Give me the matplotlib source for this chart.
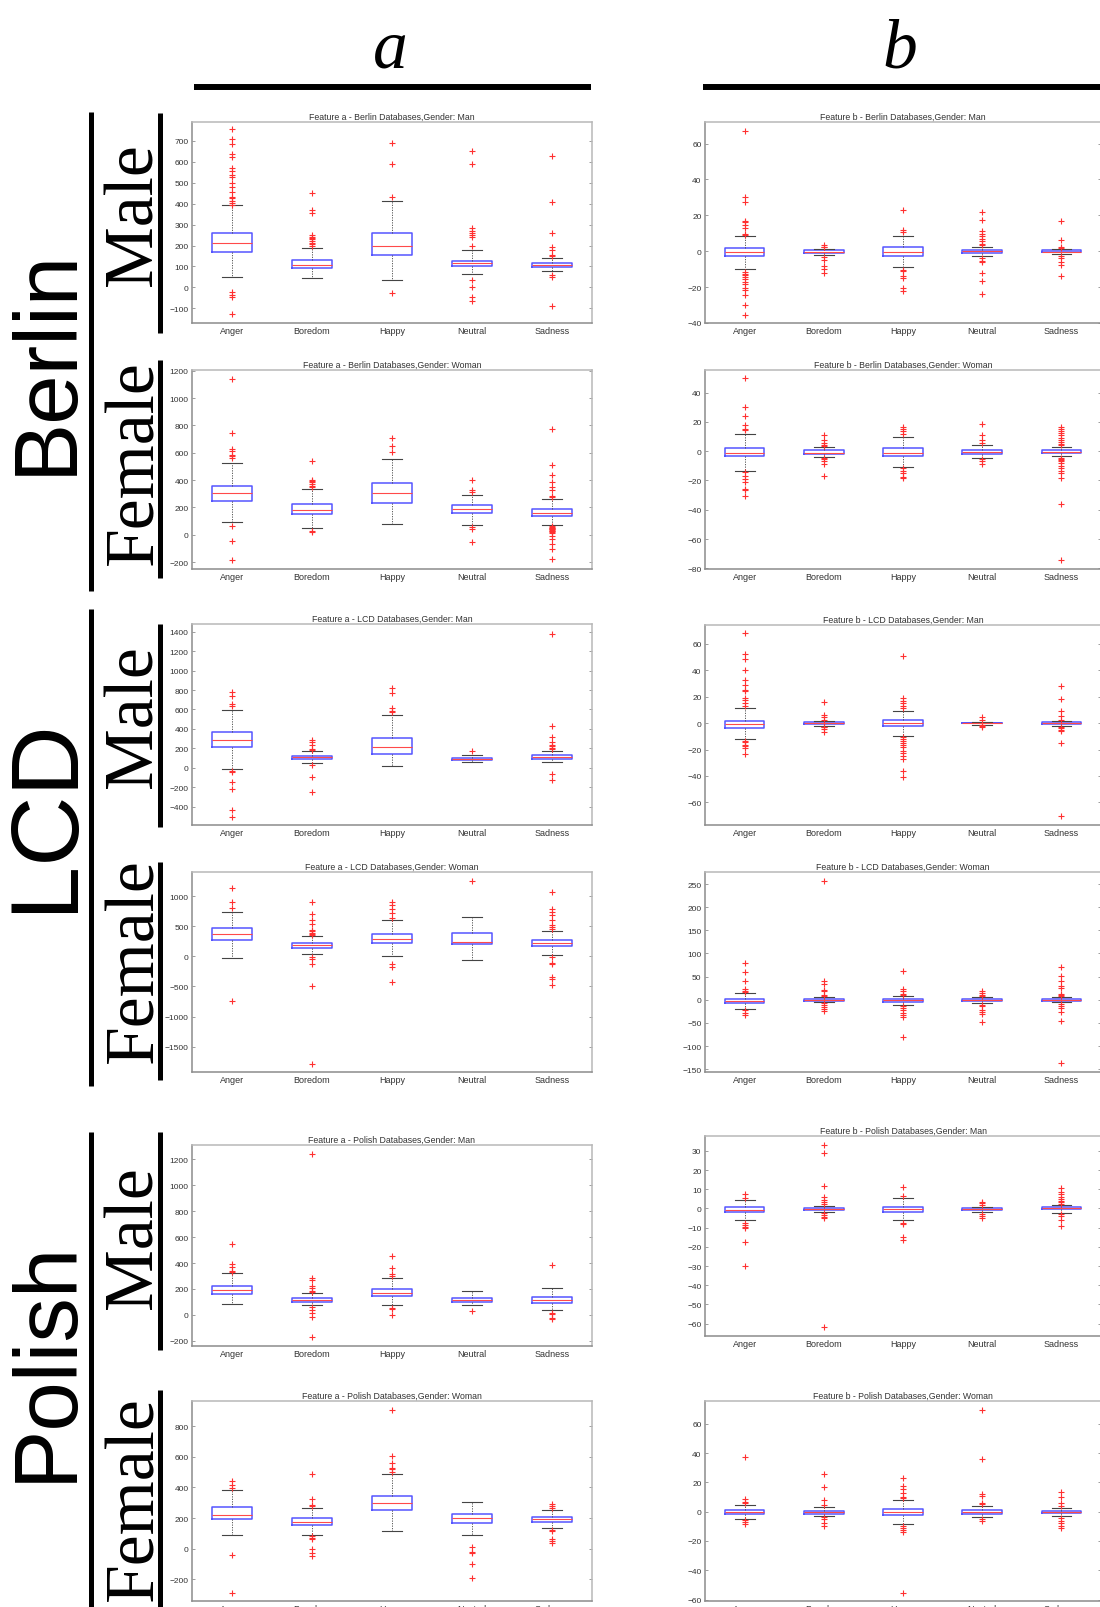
import matplotlib
matplotlib.use("Agg")
import matplotlib.pyplot as plt
from matplotlib.lines import Line2D
from matplotlib.ticker import MultipleLocator

W, H = 1100, 1608
emotions = ["Anger", "Boredom", "Happy", "Neutral", "Sadness"]

# per panel: quartiles, whisker ends and outliers for each emotion
berlin_man_a = dict(
    q1=[169, 92, 156, 100, 97], med=[210, 108, 198, 115, 108], q3=[258, 129, 258, 127, 116],
    lo=[52, 47, 35, 65, 79], hi=[394, 189, 411, 179, 139],
    out=[[756, 710, 685, 635, 624, 571, 555, 535, 527, 498, 479, 458, 434, 426, 415, 402, 395, -21, -34, -48, -126],
         [452, 372, 356, 248, 242, 236, 230, 222, 214, 206, 198],
         [692, 589, 431, -26],
         [652, 589, 285, 269, 258, 248, 240, 200, 35, 3, -48, -66],
         [627, 410, 261, 192, 181, 156, 148, 60, 52, -90]])
berlin_man_b = dict(
    q1=[-2.8, -0.9, -2.4, -0.75, -0.7], med=[-0.3, -0.4, -0.4, 0, -0.2], q3=[1.7, 0.5, 2.2, 0.75, 0.5],
    lo=[-9.9, -2, -8.6, -2.4, -1.7], hi=[8.2, 1.3, 8.6, 2.4, 1.3],
    out=[[67, 30.3, 27.3, 17, 16.3, 14.4, 13, 9.7, 9.2, -11.8, -12.7, -13.5, -14.2, -15.5, -17, -18.3, -20.6, -21.7, -24.3, -29.9, -35.3],
         [3.2, 2.6, 2.2, -3.4, -4.7, -8, -9.9, -12.3],
         [23.2, 12, 10.7, -10.5, -11.2, -13.6, -15.1, -20.4, -22.2],
         [21.9, 17.4, 11, 9.7, 8.2, 6.9, 5.6, 4.1, 3.2, -3.7, -5.2, -6.2, -12.1, -16.4, -23.9],
         [16.8, 6.5, 2.2, 1.7, -2.4, -3.9, -6.2, -7.5, -13.6]])
berlin_woman_a = dict(
    q1=[247, 152, 235, 158, 139], med=[305, 180, 305, 186, 163], q3=[360, 222, 380, 219, 191],
    lo=[94, 53, 80, 69, 75], hi=[524, 332, 551, 291, 260],
    out=[[1141, 748, 629, 615, 582, 573, 560, 66, -44, -183],
         [537, 402, 395, 388, 375, 360, 346, 28, 19],
         [706, 651, 609],
         [402, 324, 310, 55, 42, -55],
         [776, 512, 435, 388, 346, 324, 283, 277, 66, 60, 53, 50, 45, 39, 35, 30, 25, 20, 11, -8, -30, -64, -105, -180]])
berlin_woman_b = dict(
    q1=[-3.6, -1.6, -3.2, -1.6, -0.9], med=[-0.9, -0.9, -0.9, -0.7, -0.2], q3=[2.3, 0.5, 2.3, 0.9, 0.9],
    lo=[-13.2, -3.9, -10.7, -4.3, -3.2], hi=[12, 3, 9.8, 4.1, 3.2],
    out=[[49.8, 30.2, 24, 18.2, 15, 14.3, -13.9, -16.8, -19, -20.9, -25.9, -26.8, -30.9],
         [11.1, 7.7, 5.9, 4.3, 3.6, -4.5, -5.5, -6.6, -8.9, -16.8],
         [16.8, 15, 13.6, 11.6, -11.8, -13.4, -15.2, -17.3, -18.6],
         [18.4, 10.9, 7.7, 5.5, -5, -7, -8.9],
         [16.4, 15, 13.9, 12.7, 10.9, 9.3, 7.7, 6.4, 5.2, 4.1, -4.3, -5, -5.9, -7, -8.2, -10, -11.8, -13.4, -15, -18, -36.4, -74.5]])
lcd_man_a = dict(
    q1=[213, 90, 141, 83, 90], med=[289, 107, 210, 93, 107], q3=[365, 124, 306, 103, 131],
    lo=[-14, 48, 21, 59, 59], hi=[599, 176, 547, 134, 169],
    out=[[781, 737, 657, 633, -34, -45, -148, -220, -437, -509],
         [282, 262, 231, 196, 186, 24, -100, -251],
         [826, 771, 616, 589, 578],
         [169],
         [1377, 434, 317, 262, 238, 220, 203, 193, -62, -127]])
lcd_man_b = dict(
    q1=[-3.8, -0.5, -2.5, -0.3, -0.5], med=[-1, 0, 0, 0, 0], q3=[1.8, 0.5, 2.5, 0.3, 0.5],
    lo=[-12, -2, -9.5, -1.3, -2], hi=[11, 1.8, 9, 1, 1.3],
    out=[[67.6, 52, 48.2, 40.2, 32.4, 28.9, 25, 23.9, 18.8, 17.3, 15, 12.6, -13.3, -14.6, -16.3, -17.6, -19, -23.6],
         [15.6, 6, 4.3, 2.5, -2.8, -3.3, -4.5, -6.5],
         [50.8, 18.8, 16.8, 15, 13, 11, -10.8, -12, -13.3, -15, -16.6, -18.3, -20.9, -22.9, -24.6, -27.1, -35.9, -40.5],
         [4.5, 2.5, -1.5, -2.3, -3],
         [27.6, 18.1, 9.3, 5.5, 2.5, -2.8, -3.8, -5, -6.3, -15.3, -70.4]])
lcd_woman_a = dict(
    q1=[277, 144, 222, 199, 166], med=[377, 183, 288, 238, 216], q3=[471, 216, 371, 388, 266],
    lo=[-22, 39, 6, -61, 22], hi=[742, 332, 609, 648, 416],
    out=[[1141, 898, 809, -748],
         [898, 709, 604, 532, 438, 416, 393, 366, 349, -6, -50, -127, -499, -1784],
         [898, 853, 792, 726, 643, -133, -172, -427],
         [1247],
         [1075, 781, 737, 681, 604, 515, 493, 460, -11, -105, -127, -338, -377, -482]])
lcd_woman_b = dict(
    q1=[-7, -2, -5, -2.9, -2.2], med=[-3, -0.7, -1.4, -1.4, -0.7], q3=[2, 0.7, 2, 0.7, 1.4],
    lo=[-20, -5.7, -10.8, -7.2, -5.7], hi=[13.6, 5, 8.6, 5.7, 5.7],
    out=[[79, 61, 40, 23, 18, 15.8, -21.5, -28, -32],
         [256, 39.5, 34.4, 20.8, 18, 10.8, 7.2, -7.2, -10.8, -15.8, -19.4, -24.4],
         [63, 23.7, 20, 11.5, 9.3, -13.6, -17.2, -23, -28.7, -32.3, -37.3, -80.3],
         [18, 14.3, 10.8, 7.9, -10.8, -13.6, -21.5, -26.5, -31.6, -48],
         [70.3, 51, 41.6, 29.4, 25, 13, 9.3, 7.2, -8.6, -13.6, -18, -26.5, -46, -136]])
polish_man_a = dict(
    q1=[159, 100, 147, 100, 95], med=[190, 116, 172, 118, 118], q3=[224, 129, 203, 134, 141],
    lo=[87, 75, 75, 77, 36], hi=[326, 172, 288, 185, 206],
    out=[[550, 396, 370, 339, 332],
         [1239, 288, 270, 224, 206, 185, 177, 57, 39, 18, -13, -170],
         [455, 365, 314, 301, 51, 44, 0],
         [31],
         [386, 18, 5, -21, -33]])
polish_man_b = dict(
    q1=[-2.1, -0.7, -2.1, -0.7, -0.5], med=[-0.7, -0.2, -0.5, -0.2, 0], q3=[0.7, 0.3, 1, 0.3, 0.5],
    lo=[-5.9, -1.9, -5.9, -2.1, -2.2], hi=[4.5, 1.4, 5.4, 1, 1.9],
    out=[[7.4, 5.4, -7.6, -8.7, -9.5, -10.4, -17.6, -29.8],
         [33, 29, 11.6, 5.7, 4.5, 3.1, 2.1, -2.6, -3.3, -4.3, -5, -61.8],
         [11.2, 6.6, -7.6, -8.1, -15, -16.3],
         [3.5, 2.6, 1.7, -2.9, -3.8, -5],
         [10.6, 8.7, 7.4, 6.2, 4.8, 4, 3.1, 2.2, -2.9, -3.8, -5.9, -9]])
polish_woman_a = dict(
    q1=[196, 154, 250, 170, 176], med=[220, 176, 300, 202, 191], q3=[270, 202, 343, 228, 209],
    lo=[91, 91, 115, 91, 137], hi=[383, 267, 489, 307, 252],
    out=[[441, 413, 398, -41, -287],
         [485, 322, 285, 278, 83, 72, 65, 0, -30, -48],
         [904, 604, 556, 528, 517, 502],
         [11, -22, -26, -102, -189],
         [293, 278, 267, 120, 115, 65, 50, 35]])
polish_woman_b = dict(
    q1=[-1.6, -1.4, -2.3, -1.6, -0.9], med=[-0.2, -0.5, -0.2, -0.2, -0.2], q3=[1.1, 0.7, 2, 1.1, 0.5],
    lo=[-4.8, -3, -8.7, -3.9, -3], hi=[4.6, 3.4, 7.7, 3.6, 2.7],
    out=[[37.6, 8.9, 6.8, 5.7, -5.9, -6.8, -8.2],
         [25.5, 16.9, 8, 4.6, -3.6, -4.8, -8, -9.8],
         [23.2, 17.5, 15.7, 13, 10.3, 9.6, -9.8, -11.4, -12.8, -13.9, -55.4],
         [69.5, 35.8, 12.3, 10.7, 6.2, 5, -4.8, -6.4],
         [13.4, 10.3, 5.7, 3.9, -4.1, -6.4, -8, -9.8, -11.4]])

plt.rcParams['font.family'] = ['Liberation Sans', 'DejaVu Sans']

fig = plt.figure(figsize=(W / 100, H / 100), dpi=100)


def fx(x):
    return x / W


def fy(y):
    return 1 - y / H


def draw_panel(rect, d, title, ylim, step):
    x0, y0, x1, y1 = rect
    ax = fig.add_axes([fx(x0), fy(y1), (x1 - x0) / W, (y1 - y0) / H])
    stats = []
    for i, name in enumerate(emotions):
        stats.append(dict(label=name, med=d["med"][i], q1=d["q1"][i], q3=d["q3"][i],
                          whislo=d["lo"][i], whishi=d["hi"][i], fliers=d["out"][i]))
    ax.bxp(stats, widths=0.5, capwidths=0.25,
           boxprops=dict(color='#5555ff', lw=1.1),
           medianprops=dict(color='#ff4a4a', lw=0.8),
           whiskerprops=dict(color='#444444', ls=(0, (1.5, 1.5)), lw=0.6),
           capprops=dict(color='#444444', lw=0.8),
           flierprops=dict(marker='+', markeredgecolor='#ff3030', markersize=4.2,
                           markeredgewidth=0.8, ls='none'))
    ax.set_xlim(0.5, 5.5)
    ax.set_ylim(*ylim)
    ax.yaxis.set_major_locator(MultipleLocator(step))
    ax.tick_params(axis='y', direction='in', right=True, length=2.5, width=0.5,
                   color='#777777', labelcolor='#333333', labelsize=6, pad=2.5)
    ax.tick_params(axis='x', length=0, labelcolor='#333333', labelsize=6.5, pad=2)
    for side, sp in ax.spines.items():
        sp.set_linewidth(1.1)
        sp.set_color('#8c8c8c' if side in ('left', 'bottom') else '#b8b8b8')
    ax.set_title(title, fontsize=6.3, color='#333333', pad=2.5)
    return ax


left = (192, 592)
right = (705, 1101)
panels = [
    (left, (123, 324), berlin_man_a, "Feature a - Berlin Databases,Gender: Man", (-170, 790), 100),
    (right, (123, 324), berlin_man_b, "Feature b - Berlin Databases,Gender: Man", (-40, 72), 20),
    (left, (371, 570), berlin_woman_a, "Feature a - Berlin Databases,Gender: Woman", (-250, 1205), 200),
    (right, (371, 570), berlin_woman_b, "Feature b - Berlin Databases,Gender: Woman", (-80.5, 55.5), 20),
    (left, (625, 826), lcd_man_a, "Feature a - LCD Databases,Gender: Man", (-590, 1480), 200),
    (right, (626, 826), lcd_man_b, "Feature b - LCD Databases,Gender: Man", (-77, 74), 20),
    (left, (873, 1073), lcd_woman_a, "Feature a - LCD Databases,Gender: Woman", (-1920, 1400), 500),
    (right, (873, 1073), lcd_woman_b, "Feature b - LCD Databases,Gender: Woman", (-156, 276), 50),
    (left, (1146, 1347), polish_man_a, "Feature a - Polish Databases,Gender: Man", (-240, 1310), 200),
    (right, (1137, 1337), polish_man_b, "Feature b - Polish Databases,Gender: Man", (-66.4, 37.7), 10),
    (left, (1402, 1602), polish_woman_a, "Feature a - Polish Databases,Gender: Woman", (-341, 963), 200),
    (right, (1402, 1602), polish_woman_b, "Feature b - Polish Databases,Gender: Woman", (-61, 75.6), 20),
]
for (xa, xb), (ya, yb), d, title, ylim, step in panels:
    draw_panel((xa, ya, xb, yb), d, title, ylim, step)


def bar(x0, y0, x1, y1, lw):
    fig.add_artist(Line2D([fx(x0), fx(x1)], [fy(y0), fy(y1)], color='black', lw=lw,
                          solid_capstyle='butt', transform=fig.transFigure))


# column headers
fig.text(fx(390), fy(67), "a", fontsize=50, family='Liberation Serif', style='italic',
         ha='center', va='baseline')
fig.text(fx(900), fy(67), "b", fontsize=50, family='Liberation Serif', style='italic',
         ha='center', va='baseline')
bar(194, 88, 591, 88, 4.3)
bar(703, 88, 1100, 88, 4.3)

# database labels with their brackets
databases = ["Berlin", "LCD", "Polish"]
db_spans = [(113, 592), (610, 1087), (1133, 1608)]
db_centers = [361, 815, 1361]
db_sizes = [64, 70, 64]
for name, (ya, yb), yc, fs in zip(databases, db_spans, db_centers, db_sizes):
    bar(91, ya, 91, yb, 3.6)
    fig.text(fx(71), fy(yc), name, fontsize=fs, family='Liberation Sans', rotation=90,
             rotation_mode='anchor', ha='center', va='baseline')

genders = ["Male", "Female", "Male", "Female", "Male", "Female"]
gender_spans = [(114, 334), (361, 579), (625, 828), (863, 1081), (1133, 1351), (1391, 1608)]
gender_centers = [215, 463, 717, 961, 1238, 1499]
for name, (ya, yb), yc in zip(genders, gender_spans, gender_centers):
    bar(160, ya, 160, yb, 3.6)
    fig.text(fx(152), fy(yc), name, fontsize=50, family='Liberation Serif', rotation=90,
             rotation_mode='anchor', ha='center', va='baseline')

fig.savefig("out.png", dpi=100)
